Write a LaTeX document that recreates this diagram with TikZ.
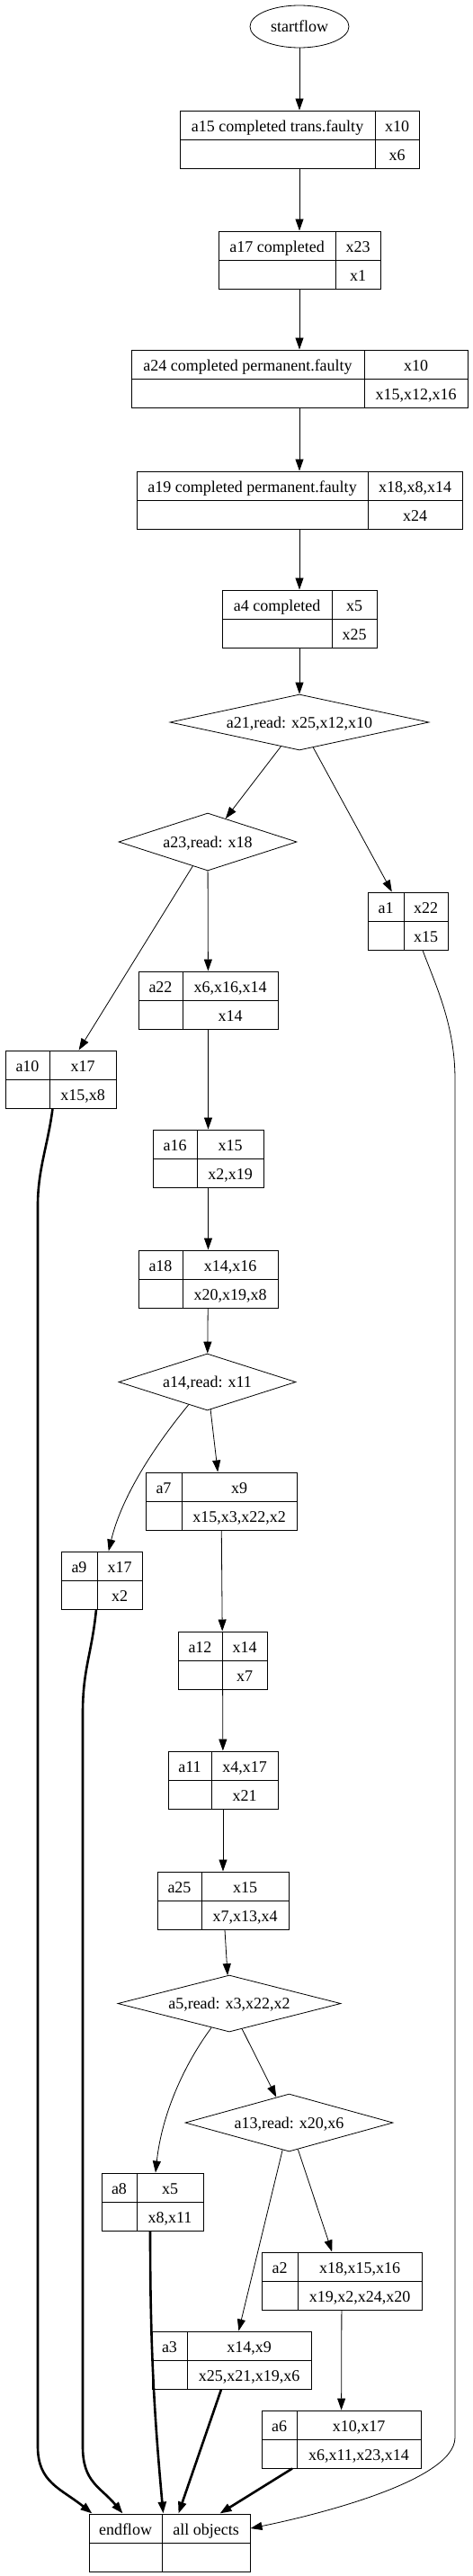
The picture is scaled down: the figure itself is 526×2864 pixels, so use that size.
\documentclass[tikz,border=0pt]{standalone}
\usepackage{fontspec}
\setmainfont{Liberation Serif}
\usepackage{tikz}
\usetikzlibrary{
  arrows.meta,
  shapes.geometric,
  fit
}
\tikzset{
  gvfont/.style={font=\fontsize{18}{21}\selectfont},
  recbox/.style={draw, line width=1pt, inner sep=0pt},
  recline/.style={line width=1pt},
  rectxt/.style={gvfont, anchor=base, inner sep=0pt},
  terminal/.style={
    gvfont, draw, ellipse, line width=0.8pt, inner sep=0pt,
    minimum width=110pt, minimum height=47pt, text height=12pt, text depth=0pt
  },
  decision/.style={
    gvfont, draw, diamond, line width=0.8pt, inner sep=0pt,
    text height=12pt, text depth=0pt
  },
  flow/.style={-{Triangle[length=13pt, width=9pt]}, line width=0.8pt},
  heavy/.style={flow, line width=2.6pt}
}
% record: name, left x, divider x, right x, top y, label, in, out
\newcommand{\recnode}[8]{%
  \node[recbox, fit={(#2,#5) (#4,#5+64)}] (#1) {};
  \draw[recline] (#3,#5) -- (#3,#5+64) (#2,#5+32) -- (#4,#5+32);
  \node[rectxt] (#1-name) at ({(#2+#3)/2},#5+23.5) {#6};
  \node[rectxt] (#1-in) at ({(#3+#4)/2},#5+23.5) {#7};
  \node[rectxt] (#1-out) at ({(#3+#4)/2},#5+55.5) {#8};
}

\begin{document}
\begin{tikzpicture}[x=1pt, y=-1pt]
  \useasboundingbox (0,0) rectangle (526,2864);

  % main chain
  \node[terminal] (start) at (333,29.5) {startflow};
  \recnode{a15}{200}{417}{466}{123}{a15 completed trans.faulty}{x10}{x6}
  \recnode{a17}{243}{373}{423}{257}{a17 completed}{x23}{x1}
  \recnode{a24}{146}{405}{520}{389}{a24 completed permanent.faulty}{x10}{x15,x12,x16}
  \recnode{a19}{152}{409}{514}{524}{a19 completed permanent.faulty}{x18,x8,x14}{x24}
  \recnode{a4}{247}{369}{419}{656}{a4 completed}{x5}{x25}
  \node[decision, minimum width=288pt, minimum height=62pt, aspect=4.6] (a21) at (333,803) {a21,read: x25,x12,x10};

  % branches
  \node[decision, minimum width=198pt, minimum height=64pt, aspect=3.1] (a23) at (231,936) {a23,read: x18};
  \recnode{a1}{409}{449}{498}{992}{a1}{x22}{x15}
  \recnode{a22}{154}{203}{309}{1080}{a22}{x6,x16,x14}{x14}
  \recnode{a10}{6}{55}{129}{1168}{a10}{x17}{x15,x8}
  \recnode{a16}{170}{219}{293}{1256}{a16}{x15}{x2,x19}
  \recnode{a18}{154}{203}{309}{1390}{a18}{x14,x16}{x20,x19,x8}
  \node[decision, minimum width=197pt, minimum height=63pt, aspect=3.1] (a14) at (230.5,1536.5) {a14,read: x11};
  \recnode{a7}{162}{202}{330}{1637}{a7}{x9}{x15,x3,x22,x2}
  \recnode{a9}{68}{108}{158}{1725}{a9}{x17}{x2}
  \recnode{a12}{198}{247}{297}{1814}{a12}{x14}{x7}
  \recnode{a11}{187}{235}{309}{1947}{a11}{x4,x17}{x21}
  \recnode{a25}{175}{224}{321}{2081}{a25}{x15}{x7,x13,x4}
  \node[decision, minimum width=248pt, minimum height=63pt, aspect=3.9] (a5) at (255,2227.5) {a5,read: x3,x22,x2};
  \node[decision, minimum width=231pt, minimum height=64pt, aspect=3.6] (a13) at (321.5,2360) {a13,read: x20,x6};
  \recnode{a8}{113}{152}{226}{2416}{a8}{x5}{x8,x11}
  \recnode{a2}{291}{331}{469}{2504}{a2}{x18,x15,x16}{x19,x2,x24,x20}
  \recnode{a3}{169}{208}{346}{2592}{a3}{x14,x9}{x25,x21,x19,x6}
  \recnode{a6}{291}{330}{468}{2680}{a6}{x10,x17}{x6,x11,x23,x14}
  \recnode{endflow}{99}{180}{278}{2795}{endflow}{all objects}{}

  % connectors
  \draw[flow] (start) -- (a15);
  \draw[flow] (a15) -- (a17);
  \draw[flow] (a17) -- (a24);
  \draw[flow] (a24) -- (a19);
  \draw[flow] (a19) -- (a4);
  \draw[flow] (a4) -- (a21);
  \draw[flow] (a21) -- (a23);
  \draw[flow] (a21) -- (a1);
  \draw[flow] (a23) -- (a22);
  \draw[flow] (a23) -- (a10);
  \draw[flow] (a22) -- (a16);
  \draw[flow] (a16) -- (a18);
  \draw[flow] (a18) -- (a14);
  \draw[flow] (a14) -- (a7);
  \draw[flow] (a14) .. controls (170,1610) and (135,1665) .. (a9);
  \draw[flow] (a7) -- (a12);
  \draw[flow] (a12) -- (a11);
  \draw[flow] (a11) -- (a25);
  \draw[flow] (a25) -- (a5);
  \draw[flow] (a5) -- (a13);
  \draw[flow] (a5) .. controls (205,2295) and (180,2350) .. (a8);
  \draw[flow] (a13) -- (a3);
  \draw[flow] (a13) -- (a2);
  \draw[flow] (a2) -- (a6);

  % into endflow
  \draw[heavy] ([xshift=-9pt]a10.south) .. controls +(-5,40) and +(0,-40) .. (42,1340)
    -- (42,2720) .. controls +(0,40) and +(-35,-28) .. ([xshift=4pt]endflow.north west);
  \draw[heavy] ([xshift=-6pt]a9.south) .. controls +(-5,50) and +(0,-50) .. (92,1905)
    -- (92,2720) .. controls +(0,40) and +(-25,-30) .. ([xshift=38pt]endflow.north west);
  \draw[heavy] ([xshift=-2.5pt]a8.south) .. controls +(0,130) and +(-10,-110) .. ([xshift=83pt]endflow.north west);
  \draw[heavy] ([xshift=-11.5pt]a3.south) -- ([xshift=100pt]endflow.north west);
  \draw[heavy] ([xshift=-54.5pt]a6.south) -- ([xshift=146pt]endflow.north west);
  \draw[flow] ([xshift=16.5pt]a1.south) .. controls +(15,40) and +(0,-60) .. (506,1200)
    -- (506,2710) .. controls +(0,50) and +(60,-12) .. ([yshift=16pt]endflow.east);
\end{tikzpicture}
\end{document}
